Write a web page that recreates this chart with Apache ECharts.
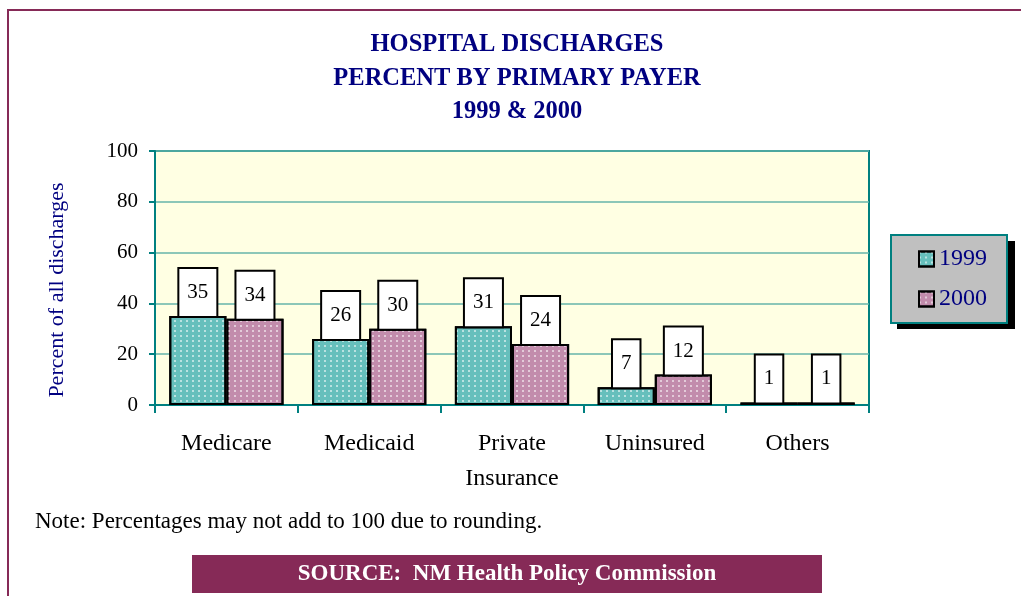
<!DOCTYPE html>
<html>
<head>
<meta charset="utf-8">
<title>Hospital Discharges by Primary Payer</title>
<script src="https://cdn.jsdelivr.net/npm/echarts@6/dist/echarts.min.js"></script>
<style>
  html, body { margin: 0; padding: 0; background: #ffffff; }
  #chart { width: 1021px; height: 596px; }
</style>
</head>
<body>
<div id="chart"></div>
<script>
// Payer categories and yearly shares of discharges (percent)
const categories = ['Medicare', 'Medicaid', 'Private\nInsurance', 'Uninsured', 'Others'];
const values1999 = [35, 26, 31, 7, 1];
const values2000 = [34, 30, 24, 12, 1];
const yTicks = [0, 20, 40, 60, 80, 100];
const seriesNames = ['1999', '2000'];

const SERIF = '"Liberation Serif", "DejaVu Serif", serif';
const NAVY = '#000080';
const TEAL = '#008080';
const MAROON = '#862a57';

const chart = echarts.init(document.getElementById('chart'), null, { renderer: 'canvas' });

// light dotted fill used on the bars
function dots() {
  return {
    symbol: 'rect',
    symbolSize: 1,
    color: 'rgba(255,255,255,0.55)',
    dashArrayX: [2, 4],
    dashArrayY: [2, 3]
  };
}

// boxed value label sitting on top of each bar
function valueLabel() {
  return {
    show: true,
    position: 'top',
    distance: 0,
    color: '#000',
    fontFamily: SERIF,
    fontSize: 21,
    lineHeight: 21,
    backgroundColor: '#ffffff',
    borderColor: '#000',
    borderWidth: 2,
    padding: [13, 8, 13, 8]
  };
}

const option = {
  backgroundColor: '#ffffff',
  animation: false,
  title: {
    text: 'HOSPITAL DISCHARGES\nPERCENT BY PRIMARY PAYER\n1999 & 2000',
    left: 517,
    top: 28,
    textAlign: 'center',
    padding: 0,
    textStyle: {
      fontFamily: SERIF,
      fontWeight: 'bold',
      fontSize: 24.5,
      lineHeight: 33.5,
      color: NAVY
    }
  },
  legend: {
    orient: 'vertical',
    left: 891,
    top: 235,
    padding: [12, 20, 12, 27],
    itemWidth: 15,
    itemHeight: 15,
    itemGap: 16,
    icon: 'rect',
    z: 10,
    backgroundColor: '#c0c0c0',
    borderColor: TEAL,
    borderWidth: 2,
    itemStyle: { borderColor: '#000', borderWidth: 2 },
    textStyle: { fontFamily: SERIF, fontSize: 24, color: NAVY },
    data: seriesNames
  },
  grid: {
    left: 155,
    top: 151,
    width: 714,
    height: 254,
    show: true,
    backgroundColor: '#ffffe3',
    borderColor: TEAL,
    borderWidth: 2
  },
  xAxis: {
    type: 'category',
    data: categories,
    axisLine: { lineStyle: { color: TEAL, width: 2 } },
    axisTick: { show: true, length: 8, lineStyle: { color: TEAL, width: 2 } },
    axisLabel: {
      color: '#000',
      fontFamily: SERIF,
      fontSize: 24,
      lineHeight: 35,
      margin: 21,
      interval: 0
    }
  },
  yAxis: {
    type: 'value',
    min: yTicks[0],
    max: yTicks[yTicks.length - 1],
    interval: 20,
    name: 'Percent of all discharges',
    nameLocation: 'middle',
    nameRotate: 90,
    nameGap: 87,
    nameTextStyle: {
      fontFamily: SERIF,
      fontSize: 22,
      color: NAVY,
      padding: [0, 24, 0, 0]
    },
    axisLine: { show: true, lineStyle: { color: TEAL, width: 2 } },
    axisTick: { show: true, length: 6, lineStyle: { color: TEAL, width: 2 } },
    axisLabel: {
      color: '#000',
      fontFamily: SERIF,
      fontSize: 21,
      margin: 17,
      formatter: function (v) { return yTicks.indexOf(v) >= 0 ? String(v) : ''; }
    },
    splitLine: { show: true, lineStyle: { color: '#66b5aa', width: 1.5 } }
  },
  series: [
    {
      name: seriesNames[0],
      type: 'bar',
      data: values1999,
      barGap: '0%',
      barCategoryGap: '20%',
      itemStyle: { color: '#66bfbc', borderColor: '#000', borderWidth: 2, decal: dots() },
      label: valueLabel()
    },
    {
      name: seriesNames[1],
      type: 'bar',
      data: values2000,
      barGap: '0%',
      barCategoryGap: '20%',
      itemStyle: { color: '#c28cac', borderColor: '#000', borderWidth: 2, decal: dots() },
      label: valueLabel()
    }
  ],
  graphic: [
    // page frame
    { type: 'line', shape: { x1: 8, y1: 10, x2: 1021, y2: 10 }, style: { stroke: MAROON, lineWidth: 2 } },
    { type: 'line', shape: { x1: 8, y1: 9, x2: 8, y2: 596 }, style: { stroke: MAROON, lineWidth: 2 } },
    // drop shadow behind the legend box
    { type: 'rect', z: 0, shape: { x: 897, y: 241, width: 118, height: 88 }, style: { fill: '#000000' } },
    // footnote
    {
      type: 'text', left: 35, top: 510,
      style: { text: 'Note: Percentages may not add to 100 due to rounding.', fill: '#000', font: '23px ' + SERIF }
    },
    // source banner
    {
      type: 'group', left: 192, top: 555,
      children: [
        { type: 'rect', shape: { x: 0, y: 0, width: 630, height: 38 }, style: { fill: MAROON } },
        {
          type: 'text', x: 315, y: 19,
          style: {
            text: 'SOURCE:  NM Health Policy Commission',
            fill: '#ffffff', font: 'bold 23px ' + SERIF,
            textAlign: 'center', textVerticalAlign: 'middle'
          }
        }
      ]
    }
  ]
};

chart.setOption(option);
</script>
</body>
</html>
